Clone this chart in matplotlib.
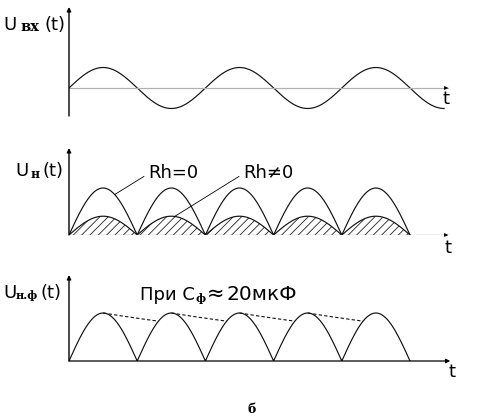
import numpy as np
import matplotlib
matplotlib.use("Agg")
import matplotlib.pyplot as plt

# ---- data (schematic values) ----
input_amplitude = 1.0          # U_вх amplitude
input_periods = 2.75           # number of input sine periods shown
half_waves = 5                 # rectified half-waves shown
peak_rh0 = 1.0                 # Rh = 0 arch height
peak_rh_load = 0.4             # Rh != 0 arch height (hatched)
filtered_peak = 1.0            # filtered output arch height
filtered_min = 0.83            # ripple minimum with C_ф ≈ 20 мкФ

W, H = 480, 420
plt.rcParams['font.family'] = ['DejaVu Sans']
plt.rcParams['hatch.linewidth'] = 0.6
fig = plt.figure(figsize=(W / 100, H / 100), dpi=100)
fig.patch.set_facecolor('white')

def px(x, y):
    return (x / W, 1 - y / H)

def make_ax(top_px, bottom_px, ylim):
    left, width = 69, 5.6 * 68.2
    ax = fig.add_axes([left / W, 1 - bottom_px / H, width / W, (bottom_px - top_px) / H])
    ax.set_xlim(0, 5.6)
    ax.set_ylim(*ylim)
    ax.axis('off')
    return ax

LW = 0.85
xend = 5.56

# ---------- panel 1: input sine ----------
ax1 = make_ax(7, 116, (-28 / 20.5, 81 / 20.5))
t = np.linspace(0, 2 * input_periods, 800)
ax1.plot(t, input_amplitude * np.sin(np.pi * t), color='#111', lw=LW)
ax1.plot([0, xend], [0, 0], color='#b0b0b0', lw=0.9)
ax1.annotate('', xy=(xend, 0), xytext=(xend - 0.05, 0),
             arrowprops=dict(arrowstyle='-|>', color='k', lw=0.6, mutation_scale=5,
                             shrinkA=0, shrinkB=0))
ax1.annotate('', xy=(0, ax1.get_ylim()[1]), xytext=(0, ax1.get_ylim()[0]),
             arrowprops=dict(arrowstyle='-|>', color='k', lw=1.0, mutation_scale=6,
                             shrinkA=0, shrinkB=0))

# ---------- panel 2: rectified ----------
ax2 = make_ax(148, 235, (0, 87 / 47))
t2 = np.linspace(0, half_waves, 1000)
arch = np.abs(np.sin(np.pi * t2))
ax2.plot(t2, peak_rh0 * arch, color='#111', lw=LW)
ax2.plot(t2, peak_rh_load * arch, color='#111', lw=LW)
ax2.fill_between(t2, 0, peak_rh_load * arch, facecolor='none', edgecolor='#222',
                 hatch='////', lw=0)
ax2.plot([0, xend], [0, 0], color='#777', lw=0.9)
ax2.annotate('', xy=(xend, 0), xytext=(xend - 0.05, 0),
             arrowprops=dict(arrowstyle='-|>', color='k', lw=0.6, mutation_scale=5,
                             shrinkA=0, shrinkB=0))
ax2.annotate('', xy=(0, ax2.get_ylim()[1]), xytext=(0, 0),
             arrowprops=dict(arrowstyle='-|>', color='k', lw=1.0, mutation_scale=6,
                             shrinkA=0, shrinkB=0))
xa = 0.67
ax2.annotate('Rh=0', xy=(xa, peak_rh0 * abs(np.sin(np.pi * xa))), xycoords='data',
             xytext=(148, H - 178), textcoords='figure pixels', ha='left', va='baseline',
             fontsize=13,
             arrowprops=dict(arrowstyle='-', color='k', lw=0.6, relpos=(0, 0.45),
                             shrinkA=1, shrinkB=0))
xb = 1.55
ax2.annotate('Rh≠0', xy=(xb, peak_rh_load * abs(np.sin(np.pi * xb))), xycoords='data',
             xytext=(243, H - 178), textcoords='figure pixels', ha='left', va='baseline',
             fontsize=13,
             arrowprops=dict(arrowstyle='-', color='k', lw=0.6, relpos=(0, 0.45),
                             shrinkA=1, shrinkB=0))

# ---------- panel 3: filtered ----------
ax3 = make_ax(275, 361, (0, 86 / 48))
ax3.plot(t2, filtered_peak * arch, color='#111', lw=LW)
x_meet = np.arcsin(filtered_min / filtered_peak) / np.pi   # offset in next half-wave
decay_len = 0.5 + x_meet
tau = decay_len / np.log(filtered_peak / filtered_min)
for k in range(half_waves - 1):
    xs = np.linspace(k + 0.5, k + 1 + x_meet, 80)
    ax3.plot(xs, filtered_peak * np.exp(-(xs - (k + 0.5)) / tau), color='#111',
             lw=0.8, dashes=(3, 2))
ax3.annotate('', xy=(xend + 0.03, 0), xytext=(0, 0),
             arrowprops=dict(arrowstyle='-|>', color='k', lw=0.9, mutation_scale=6,
                             shrinkA=0, shrinkB=0))
ax3.annotate('', xy=(0, ax3.get_ylim()[1]), xytext=(0, 0),
             arrowprops=dict(arrowstyle='-|>', color='k', lw=1.0, mutation_scale=6,
                             shrinkA=0, shrinkB=0))

# ---------- texts ----------
main_kw = dict(fontsize=13, va='baseline', ha='left', color='k')
sub_kw = dict(fontsize=9, va='baseline', ha='left', color='k',
              family='DejaVu Serif', weight='bold')

# U_вх(t)
fig.text(*px(3, 30), 'U', **main_kw)
fig.text(*px(20, 31), 'вх', fontsize=10.5, va='baseline', ha='left', color='k',
         family='DejaVu Serif', weight='bold')
fig.text(*px(45, 30), '(t)', **main_kw)
# U_н(t)
fig.text(*px(15, 176), 'U', **main_kw)
fig.text(*px(31, 178), 'н', **sub_kw)
fig.text(*px(42, 176), '(t)', **main_kw)
# U_н.ф(t)
fig.text(*px(3, 298), 'U', **main_kw)
fig.text(*px(16, 299), 'н.ф', fontsize=8, va='baseline', ha='left', color='k',
         family='DejaVu Serif', weight='bold')
fig.text(*px(41, 298), '(t)', **main_kw)

# t labels
fig.text(*px(446, 104), 't', fontsize=13, ha='center', va='baseline')
fig.text(*px(448, 253), 't', fontsize=13, ha='center', va='baseline')
fig.text(*px(452, 377), 't', fontsize=13, ha='center', va='baseline')

# При C_ф ≈ 20мкФ
fig.text(*px(140, 300), 'При С', **main_kw)
fig.text(*px(195, 302), 'ф', fontsize=8, va='baseline', ha='left', color='k',
         family='DejaVu Serif', weight='bold')
fig.text(*px(207, 300), '≈', fontsize=15, va='baseline', ha='left')
fig.text(*px(226, 300), '20мкФ', fontsize=14.5, va='baseline', ha='left')

# б
fig.text(*px(252, 413), 'б', fontsize=9, ha='center', va='baseline',
         family='DejaVu Serif', weight='bold')

fig.savefig('out.png', dpi=100, facecolor='white')
